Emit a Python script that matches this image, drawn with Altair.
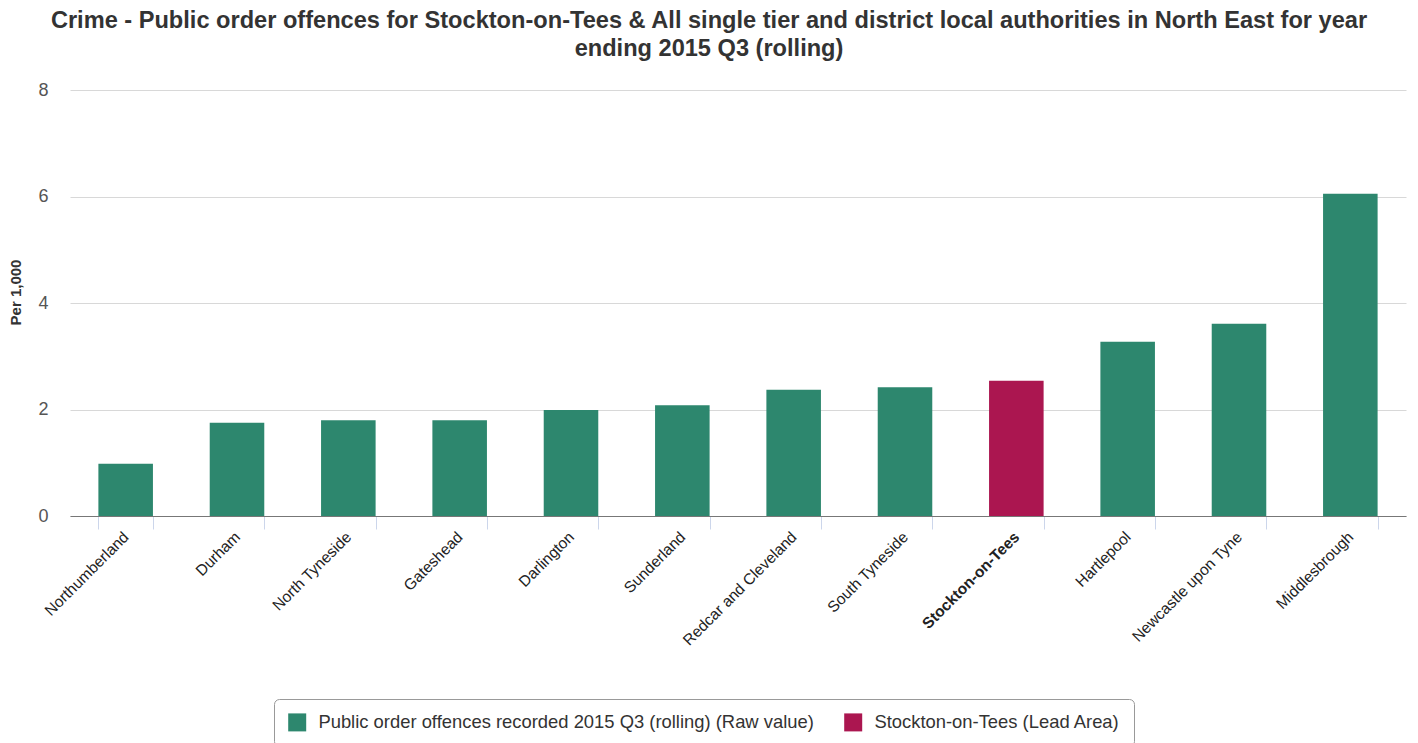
import altair as alt
import pandas as pd

areas = ["Northumberland", "Durham", "North Tyneside", "Gateshead", "Darlington",
         "Sunderland", "Redcar and Cleveland", "South Tyneside", "Stockton-on-Tees",
         "Hartlepool", "Newcastle upon Tyne", "Middlesbrough"]
values = [0.98, 1.75, 1.80, 1.80, 1.99, 2.08, 2.37, 2.42, 2.54, 3.27, 3.61, 6.05]
series_raw = "Public order offences recorded 2015 Q3 (rolling) (Raw value)"
series_lead = "Stockton-on-Tees (Lead Area)"
lead_area = "Stockton-on-Tees"
series = [series_lead if a == lead_area else series_raw for a in areas]

df = pd.DataFrame({"area": areas, "value": values, "series": series})

FONT = "Liberation Sans"

chart = alt.Chart(df).mark_bar().encode(
    x=alt.X("area:N", sort=areas,
            scale=alt.Scale(paddingInner=0.51, paddingOuter=0.255),
            axis=alt.Axis(title=None, labelAngle=-45, labelAlign="right",
                          labelBaseline="middle", labelFontSize=15.5,
                          labelColor="#222222", labelFont=FONT,
                          labelFontWeight=alt.ExprRef(expr=f"datum.value == '{lead_area}' ? 'bold' : 'normal'"),
                          labelPadding=5, labelOverlap=False,
                          tickBand="extent", tickColor="#ccd6eb", tickSize=13,
                          domainColor="#777777", domainWidth=1, grid=False)),
    y=alt.Y("value:Q", scale=alt.Scale(domain=[0, 8], nice=False),
            axis=alt.Axis(title="Per 1,000", values=[0, 2, 4, 6, 8], format="d",
                          titleFontSize=15, titleFontWeight="bold", titleColor="#333333",
                          titleFont=FONT, titlePadding=14, titleY=202,
                          labelFontSize=18, labelColor="#555555", labelFont=FONT,
                          labelPadding=22, ticks=False, domain=False,
                          gridColor="#d8d8d8", gridWidth=1)),
    color=alt.Color("series:N",
                    scale=alt.Scale(domain=[series_raw, series_lead],
                                    range=["#2d876e", "#ab1650"]),
                    legend=alt.Legend(title=None, orient="none", legendX=204, legendY=609,
                                      direction="horizontal", symbolType="square",
                                      symbolSize=324, symbolStrokeWidth=0,
                                      labelFontSize=18.4, labelColor="#333333", labelFont=FONT,
                                      labelLimit=1000, columnPadding=30, labelOffset=12,
                                      strokeColor="#999999", cornerRadius=5, padding=14)),
).properties(
    width=1336,
    height=426,
    title=alt.TitleParams(
        text=["Crime - Public order offences for Stockton-on-Tees & All single tier and district local authorities in North East for year",
              "ending 2015 Q3 (rolling)"],
        fontSize=23.6, fontWeight="bold", color="#333333", font=FONT,
        anchor="middle", dx=-29, offset=20, lineHeight=28),
    autosize=alt.AutoSizeParams(type="none"),
    padding={"left": 62, "top": 82, "right": 4, "bottom": 227},
).configure_view(stroke=None)

chart.save("out.html", embed_options={"renderer": "svg", "actions": False})
